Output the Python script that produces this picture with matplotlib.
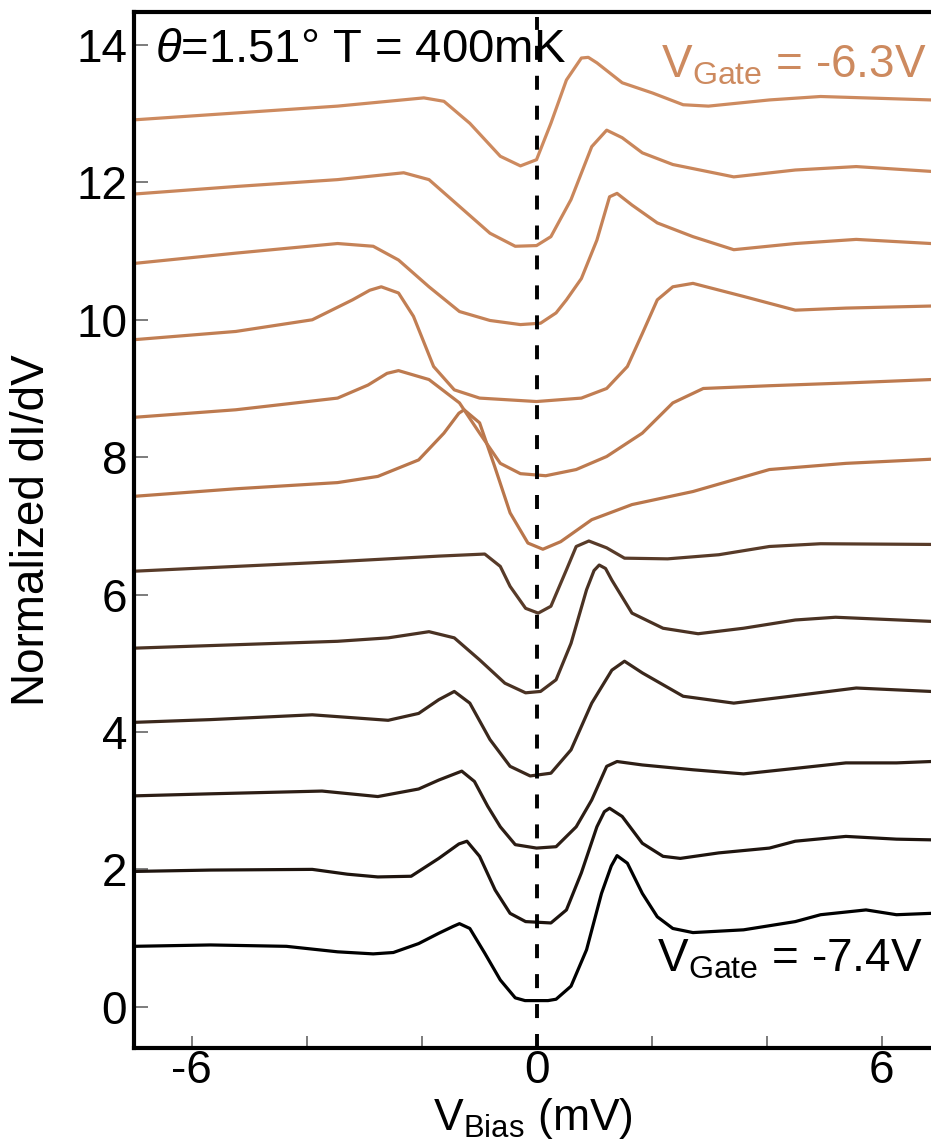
import matplotlib
matplotlib.use('Agg')
import matplotlib.pyplot as plt

plt.rcParams['font.family'] = ['Liberation Sans', 'DejaVu Sans']
plt.rcParams['mathtext.fontset'] = 'custom'
plt.rcParams['mathtext.rm'] = 'Liberation Sans'
plt.rcParams['mathtext.it'] = 'Liberation Sans:italic'

# dI/dV traces, bottom (VGate = -7.4V) to top (VGate = -6.3V)
c1_x = [-7, -5.67, -4.35, -3.46, -2.84, -2.49, -2.05, -1.7, -1.45, -1.34, -1.16, -0.9, -0.63, -0.37, -0.2, 0.0, 0.2, 0.34, 0.6, 0.87, 1.13, 1.3, 1.4, 1.58, 1.84, 2.1, 2.37, 2.72, 3.6, 4.5, 4.94, 5.73, 6.26, 6.86]
c1_y = [0.88, 0.9, 0.88, 0.8, 0.77, 0.79, 0.92, 1.07, 1.17, 1.21, 1.14, 0.78, 0.39, 0.13, 0.09, 0.09, 0.09, 0.11, 0.3, 0.83, 1.65, 2.05, 2.2, 2.09, 1.65, 1.31, 1.14, 1.08, 1.12, 1.24, 1.34, 1.41, 1.34, 1.36]

c2_x = [-7, -5.67, -3.9, -3.29, -2.76, -2.18, -1.7, -1.35, -1.21, -0.99, -0.72, -0.46, -0.19, 0.25, 0.52, 0.78, 1.05, 1.18, 1.27, 1.49, 1.84, 2.2, 2.5, 3.17, 4.05, 4.5, 5.38, 6.26, 6.86]
c2_y = [1.97, 1.99, 2.0, 1.93, 1.89, 1.9, 2.16, 2.37, 2.41, 2.19, 1.7, 1.36, 1.24, 1.22, 1.41, 1.95, 2.62, 2.84, 2.89, 2.77, 2.38, 2.19, 2.16, 2.24, 2.31, 2.41, 2.48, 2.44, 2.43]

c3_x = [-7, -5.67, -3.73, -2.76, -2.05, -1.7, -1.3, -1.08, -0.85, -0.63, -0.37, 0.0, 0.34, 0.69, 0.96, 1.22, 1.4, 1.84, 2.72, 3.6, 4.5, 5.38, 6.26, 6.86]
c3_y = [3.07, 3.1, 3.14, 3.06, 3.17, 3.3, 3.43, 3.28, 2.92, 2.62, 2.36, 2.31, 2.33, 2.62, 3.01, 3.5, 3.57, 3.52, 3.45, 3.39, 3.47, 3.55, 3.55, 3.57]

c4_x = [-7, -5.67, -3.9, -2.58, -2.05, -1.7, -1.43, -1.16, -0.81, -0.46, -0.11, 0.25, 0.6, 0.96, 1.31, 1.53, 1.84, 2.55, 3.43, 4.32, 5.56, 6.86]
c4_y = [4.14, 4.18, 4.25, 4.17, 4.27, 4.47, 4.59, 4.42, 3.89, 3.5, 3.36, 3.4, 3.74, 4.42, 4.9, 5.03, 4.86, 4.52, 4.42, 4.51, 4.64, 4.59]

c5_x = [-7, -5.23, -3.46, -2.58, -1.87, -1.43, -0.99, -0.55, -0.19, 0.07, 0.34, 0.6, 0.87, 1.0, 1.09, 1.2, 1.31, 1.66, 2.2, 2.81, 3.6, 4.5, 5.2, 6.86]
c5_y = [5.22, 5.27, 5.32, 5.37, 5.46, 5.37, 5.05, 4.71, 4.57, 4.59, 4.76, 5.29, 6.07, 6.35, 6.43, 6.38, 6.21, 5.73, 5.51, 5.43, 5.51, 5.63, 5.67, 5.61]

c6_x = [-7, -5.23, -3.46, -1.7, -0.9, -0.63, -0.46, -0.19, 0.03, 0.25, 0.52, 0.69, 0.91, 1.22, 1.53, 2.28, 3.17, 4.05, 4.94, 6.86]
c6_y = [6.34, 6.41, 6.48, 6.56, 6.59, 6.41, 6.12, 5.8, 5.73, 5.83, 6.36, 6.7, 6.78, 6.68, 6.53, 6.52, 6.58, 6.7, 6.74, 6.73]

c7_x = [-7, -5.23, -3.46, -2.76, -2.05, -1.61, -1.35, -1.26, -0.99, -0.73, -0.46, -0.15, 0.11, 0.42, 0.96, 1.66, 2.72, 4.05, 5.38, 6.86]
c7_y = [7.43, 7.54, 7.63, 7.72, 7.96, 8.35, 8.64, 8.69, 8.5, 7.87, 7.19, 6.75, 6.66, 6.77, 7.09, 7.31, 7.5, 7.82, 7.91, 7.97]

c8_x = [-7, -5.23, -3.46, -2.93, -2.6, -2.4, -1.87, -1.34, -0.99, -0.63, -0.28, 0.16, 0.69, 1.22, 1.84, 2.37, 2.9, 4.05, 5.38, 6.86]
c8_y = [8.58, 8.69, 8.86, 9.05, 9.22, 9.26, 9.13, 8.79, 8.35, 7.91, 7.76, 7.73, 7.82, 8.01, 8.35, 8.79, 9.0, 9.04, 9.08, 9.13]

c9_x = [-7, -5.23, -3.9, -3.2, -2.9, -2.7, -2.4, -2.14, -1.79, -1.43, -0.99, 0.0, 0.78, 1.22, 1.58, 1.84, 2.1, 2.37, 2.72, 3.6, 4.5, 5.38, 6.86]
c9_y = [9.71, 9.83, 10.0, 10.29, 10.43, 10.48, 10.39, 10.05, 9.32, 8.98, 8.86, 8.81, 8.86, 9.0, 9.32, 9.8, 10.29, 10.48, 10.53, 10.34, 10.14, 10.17, 10.2]

c10_x = [-7, -5.23, -3.46, -2.84, -2.4, -1.87, -1.34, -0.81, -0.28, 0.07, 0.34, 0.52, 0.78, 1.05, 1.27, 1.4, 1.66, 2.1, 2.72, 3.43, 4.5, 5.56, 6.86]
c10_y = [10.82, 10.97, 11.11, 11.07, 10.87, 10.48, 10.12, 9.99, 9.93, 9.95, 10.1, 10.29, 10.6, 11.16, 11.79, 11.84, 11.67, 11.41, 11.21, 11.02, 11.11, 11.17, 11.11]

c11_x = [-7, -5.23, -3.46, -2.31, -1.87, -1.34, -0.81, -0.37, 0.0, 0.25, 0.6, 0.96, 1.22, 1.49, 1.84, 2.37, 3.43, 4.5, 5.56, 6.86]
c11_y = [11.83, 11.94, 12.04, 12.14, 12.04, 11.65, 11.26, 11.07, 11.08, 11.21, 11.75, 12.52, 12.76, 12.65, 12.43, 12.26, 12.08, 12.18, 12.23, 12.16]

c12_x = [-7, -5.23, -3.46, -1.96, -1.61, -1.16, -0.63, -0.28, 0.0, 0.25, 0.52, 0.78, 0.9, 1.05, 1.49, 2.02, 2.55, 2.99, 4.05, 4.94, 6.86]
c12_y = [12.91, 13.01, 13.11, 13.23, 13.18, 12.86, 12.38, 12.24, 12.33, 12.86, 13.49, 13.81, 13.82, 13.74, 13.45, 13.3, 13.13, 13.11, 13.2, 13.25, 13.2]

trace_colors = ['#000000', '#1e140e', '#2d1e15', '#3b281c', '#4a3223', '#583b29',
                '#b9764b', '#bd7a4f', '#c17e53', '#c58257', '#c9865b', '#cd8a5f']

xs_all = [c1_x, c2_x, c3_x, c4_x, c5_x, c6_x, c7_x, c8_x, c9_x, c10_x, c11_x, c12_x]
ys_all = [c1_y, c2_y, c3_y, c4_y, c5_y, c6_y, c7_y, c8_y, c9_y, c10_y, c11_y, c12_y]

fig = plt.figure(figsize=(9.31, 11.46), dpi=100)
ax = fig.add_axes([134 / 931, 98 / 1146, 797 / 931, 1036 / 1146])

for xs, ys, col in zip(xs_all, ys_all, trace_colors):
    ax.plot(xs, ys, color=col, lw=2.3, solid_joinstyle='round', solid_capstyle='round')

ax.axvline(0, ymin=0, ymax=0.995, color='black', lw=2.8, dashes=(3.6, 4.1))

ax.set_xlim(-7, 6.86)
ax.set_ylim(-0.6, 14.48)

ax.set_yticks(range(0, 15, 2))
ax.set_xticks([-6, 0, 6])
ax.set_xticklabels(['-6', '0', '6'])
ax.set_xticks([-4, -2, 2, 4], minor=True)
ax.tick_params(axis='y', direction='in', length=10, width=1.2, color='#666666', labelsize=33, pad=5)
ax.tick_params(axis='x', which='both', direction='in', length=9, width=1.2, color='#666666', labelsize=33, pad=1)

for side in ['left', 'bottom', 'top']:
    ax.spines[side].set_linewidth(3)
ax.spines['right'].set_visible(False)

ax.set_ylabel('Normalized dI/dV', fontsize=33)
ax.yaxis.set_label_coords(-0.1, 0.5)
ax.set_xlabel(r'V$_{\mathrm{Bias}}$ (mV)', fontsize=32, labelpad=2)

ax.text(-6.64, 13.75, r'$\theta$=1.51° T = 400mK', fontsize=34, va='baseline', ha='left')
ax.text(6.78, 13.52, r'V$_{\mathrm{Gate}}$ = -6.3V', fontsize=33, color='#cd8a5f', va='baseline', ha='right')
ax.text(6.71, 0.51, r'V$_{\mathrm{Gate}}$ = -7.4V', fontsize=33, color='black', va='baseline', ha='right')

fig.savefig('out.png', dpi=100)
